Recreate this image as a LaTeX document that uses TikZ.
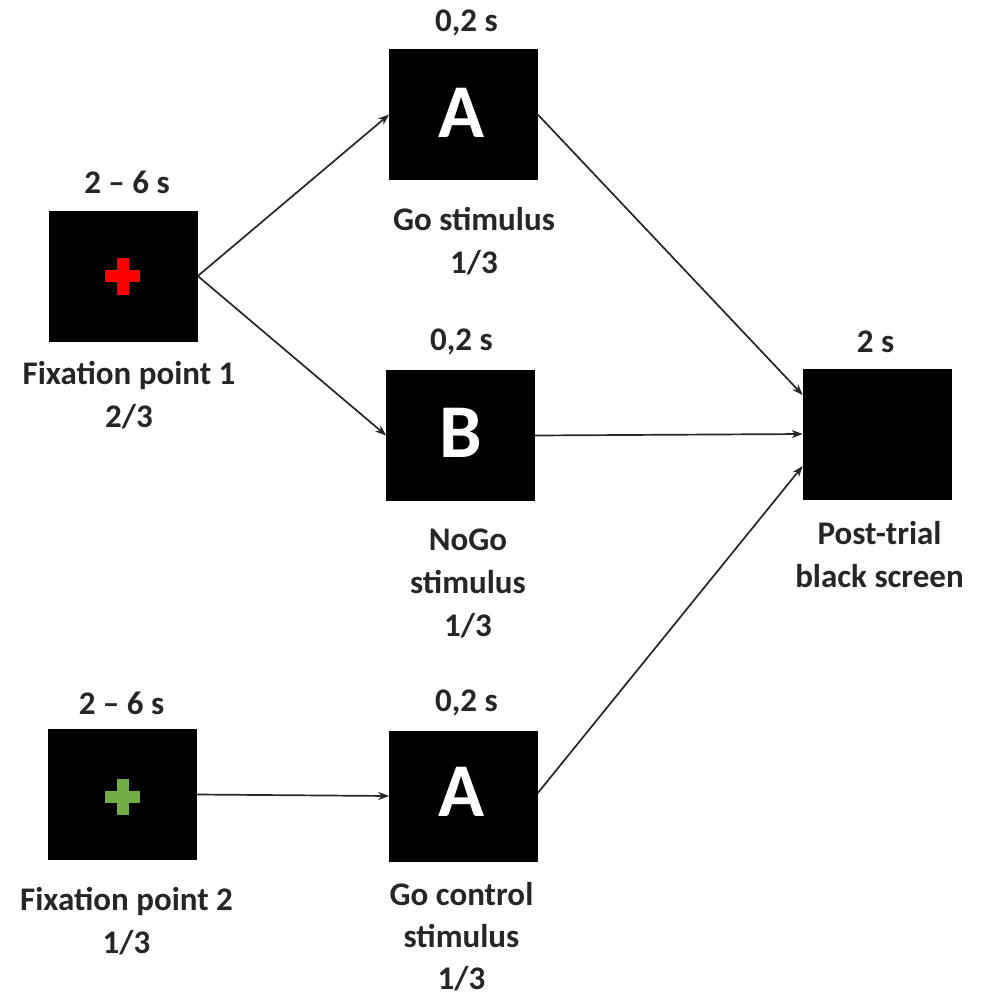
\documentclass[tikz,border=0pt]{standalone}
\usepackage{fontspec}
\setmainfont{Carlito}
\usetikzlibrary{arrows.meta}
\definecolor{crossgreen}{HTML}{70AD47}
\definecolor{labelgray}{HTML}{262626}
\begin{document}
\begin{tikzpicture}[x=1pt,y=-1pt,
  screen/.style={draw=black, line width=0.6pt, fill=black, minimum width=148pt, minimum height=130pt, inner sep=0pt},
  lbl/.style={font=\fontsize{33}{43}\selectfont\bfseries, text=labelgray, align=center, inner sep=0pt},
  letter/.style={font=\fontsize{76}{76}\selectfont\bfseries, text=white, inner sep=0pt},
  link/.style={-{Stealth[length=11pt,width=8pt]}, line width=1.7pt, draw=labelgray},
  fixcross/.style={line width=12pt}]
\useasboundingbox (0,0) rectangle (989,998);

% screens
\node[screen] (fix1) at (123.5,276) {};
\node[screen] (goA)  at (463.5,114.5) {};
\node[screen] (nogo) at (460.5,435.5) {};
\node[screen] (post) at (877,434) {};
\node[screen] (fix2) at (122.5,794.5) {};
\node[screen] (ctrl) at (463.5,796) {};

% fixation crosses
\draw[fixcross, red] (105,276) -- (140,276) (122.5,258) -- (122.5,295);
\draw[fixcross, crossgreen] (105,797) -- (140,797) (122.5,779) -- (122.5,815);

% stimulus letters
\node[letter] (lA) at (462,113) {A};
\node[letter] (lB) at (461,433) {B};
\node[letter] (lC) at (461.5,792) {A};

% durations
\node[lbl] (t1) at (127,182) {2 – 6 s};
\node[lbl] (t2) at (466.5,23) {0,2 s};
\node[lbl] (t3) at (461.5,342) {0,2 s};
\node[lbl] (t4) at (875.5,342) {2 s};
\node[lbl] (t5) at (121.5,703) {2 – 6 s};
\node[lbl] (t6) at (466.5,703) {0,2 s};

% captions
\node[lbl] (c1) at (129,395) {Fixation point 1\\2/3};
\node[lbl] (c2) at (474,241.5) {Go stimulus\\1/3};
\node[lbl] (c3) at (468,583.5) {NoGo\\stimulus\\1/3};
\node[lbl] (c4) at (879.5,555) {Post-trial\\black screen};
\node[lbl] (c5) at (126.5,921) {Fixation point 2\\1/3};
\node[lbl, font=\fontsize{33}{42}\selectfont\bfseries] (c6) at (461.5,937) {Go control\\stimulus\\1/3};

% connectors
\draw[link] (fix1.east) -- (goA.west);
\draw[link] (fix1.east) -- (nogo.west);
\draw[link] (goA.east) -- ([yshift=39pt]post.west);
\draw[link] (nogo.east) -- (post.west);
\draw[link] ([yshift=3pt]ctrl.east) -- ([yshift=-32pt]post.west);
\draw[link] (fix2.east) -- (ctrl.west);
\end{tikzpicture}
\end{document}
